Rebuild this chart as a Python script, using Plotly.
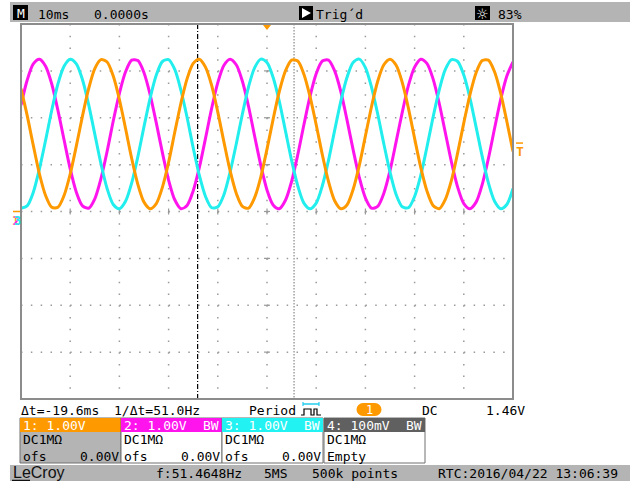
import plotly.graph_objects as go

W, H = 630, 481
MONO = "DejaVu Sans Mono"

# ---- acquisition data (10 ms/div, 1 V/div, 0 V at centre line) ----
t_ms = [-50.0, -48.75, -47.5, -46.25, -45.0, -43.75, -42.5, -41.25, -40.0, -38.75,
        -37.5, -36.25, -35.0, -33.75, -32.5, -31.25, -30.0, -28.75, -27.5, -26.25,
        -25.0, -23.75, -22.5, -21.25, -20.0, -18.75, -17.5, -16.25, -15.0, -13.75,
        -12.5, -11.25, -10.0, -8.75, -7.5, -6.25, -5.0, -3.75, -2.5, -1.25,
        0.0, 1.25, 2.5, 3.75, 5.0, 6.25, 7.5, 8.75, 10.0, 11.25,
        12.5, 13.75, 15.0, 16.25, 17.5, 18.75, 20.0, 21.25, 22.5, 23.75,
        25.0, 26.25, 27.5, 28.75, 30.0, 31.25, 32.5, 33.75, 35.0, 36.25,
        37.5, 38.75, 40.0, 41.25, 42.5, 43.75, 45.0, 46.25, 47.5, 48.75, 50.0]

ch1_v = [2.62, 2.05, 1.41, 0.80, 0.34, 0.09, 0.09, 0.34, 0.80, 1.40,
         2.04, 2.62, 3.05, 3.24, 3.19, 2.89, 2.39, 1.77, 1.13, 0.58,
         0.20, 0.06, 0.17, 0.52, 1.05, 1.69, 2.31, 2.83, 3.16, 3.25,
         3.08, 2.69, 2.12, 1.48, 0.87, 0.39, 0.11, 0.07, 0.30, 0.74,
         1.33, 1.97, 2.56, 3.00, 3.23, 3.21, 2.93, 2.45, 1.85, 1.21,
         0.64, 0.23, 0.06, 0.14, 0.47, 0.98, 1.61, 2.24, 2.78, 3.13,
         3.25, 3.12, 2.75, 2.20, 1.56, 0.94, 0.44, 0.13, 0.06, 0.26,
         0.67, 1.25, 1.89, 2.49, 2.96, 3.22, 3.23, 2.98, 2.52, 1.92, 1.28]

ch2_v = [2.27, 2.80, 3.15, 3.25, 3.10, 2.72, 2.16, 1.53, 0.91, 0.41,
         0.12, 0.07, 0.27, 0.70, 1.28, 1.93, 2.52, 2.98, 3.23, 3.22,
         2.96, 2.49, 1.89, 1.25, 0.67, 0.25, 0.06, 0.13, 0.44, 0.94,
         1.56, 2.20, 2.75, 3.12, 3.25, 3.13, 2.78, 2.24, 1.60, 0.98,
         0.46, 0.14, 0.06, 0.24, 0.64, 1.21, 1.85, 2.46, 2.94, 3.21,
         3.23, 3.00, 2.56, 1.96, 1.32, 0.73, 0.29, 0.07, 0.11, 0.39,
         0.87, 1.49, 2.12, 2.69, 3.08, 3.25, 3.16, 2.83, 2.31, 1.68,
         1.05, 0.52, 0.17, 0.06, 0.20, 0.58, 1.13, 1.77, 2.39, 2.89, 3.19]

ch3_v = [0.07, 0.12, 0.41, 0.91, 1.52, 2.16, 2.72, 3.10, 3.25, 3.15,
         2.81, 2.28, 1.65, 1.02, 0.49, 0.15, 0.06, 0.22, 0.61, 1.17,
         1.81, 2.42, 2.91, 3.20, 3.24, 3.03, 2.59, 2.01, 1.36, 0.77,
         0.32, 0.08, 0.10, 0.36, 0.84, 1.44, 2.08, 2.66, 3.07, 3.25,
         3.18, 2.86, 2.35, 1.72, 1.09, 0.55, 0.18, 0.06, 0.18, 0.55,
         1.09, 1.73, 2.35, 2.86, 3.18, 3.25, 3.07, 2.65, 2.08, 1.44,
         0.84, 0.36, 0.10, 0.08, 0.32, 0.77, 1.37, 2.01, 2.59, 3.03,
         3.24, 3.20, 2.91, 2.42, 1.80, 1.17, 0.61, 0.22, 0.06, 0.15, 0.49]

channel_labels = ["1: 1.00V", "2: 1.00V", "3: 1.00V", "4: 100mV"]
channel_bw = ["", "BW", "BW", "BW"]
channel_coupling = ["DC1MΩ", "DC1MΩ", "DC1MΩ", "DC1MΩ"]
channel_offset = ["0.00V", "0.00V", "0.00V", None]

timebase = "10ms"
delay = "0.0000s"
trig_state = "Trig´d"
brightness = "83%"
trig_level_v = 1.46
cursor_ref_ms = 5.5
cursor_delta_ms = -19.6
freq_text = "f:51.4648Hz"
sample_rate = "5MS"
record_len = "500k points"
rtc = "RTC:2016/04/22 13:06:39"

ORANGE = "#FF9900"
MAGENTA = "#FF14EE"
CYAN = "#22EEEE"
BAR = "#B4B4B4"
DARK = "#606060"
GRID = "#9A9A9A"

# screen geometry (pixels)
GX0, GX1, GY0, GY1 = 21, 513, 24, 399


def xp(x):
    return x / W


def yp(y):
    return 1 - y / H


def t_px(t):
    return GX0 + (t + 50) / 100 * (GX1 - GX0)


def v_px(v):
    return (GY0 + GY1) / 2 - v / 8 * (GY1 - GY0)


shapes = []
annotations = []


def rect(x0, y0, x1, y1, fill, lc=None, lw=0, layer="below"):
    shapes.append(dict(type="rect", xref="paper", yref="paper",
                       x0=xp(x0), x1=xp(x1), y0=yp(y1), y1=yp(y0),
                       fillcolor=fill, layer=layer,
                       line=dict(color=lc or fill, width=lw)))


def seg(x0, y0, x1, y1, color, width=1, dash="solid", layer="below"):
    shapes.append(dict(type="line", xref="paper", yref="paper",
                       x0=xp(x0), x1=xp(x1), y0=yp(y0), y1=yp(y1),
                       layer=layer, line=dict(color=color, width=width, dash=dash)))


def poly(points, fill, layer="above"):
    path = "M " + " L ".join(f"{xp(x):.5f},{yp(y):.5f}" for x, y in points) + " Z"
    shapes.append(dict(type="path", xref="paper", yref="paper", path=path,
                       fillcolor=fill, layer=layer, line=dict(width=0)))


def text(s, x, y, color="#000", size=13, xanchor="left", family=MONO):
    annotations.append(dict(text=s, x=xp(x), y=yp(y), xref="paper", yref="paper",
                            xanchor=xanchor, yanchor="middle", showarrow=False,
                            borderpad=0, font=dict(family=family, size=size, color=color)))


# ---- top status bar ----
rect(10, 2, 630, 22, BAR)
rect(13, 5, 28, 20, "#000")
text("M", 20.5, 13.5, "#fff", 13, "center")
text(timebase, 37, 14.5)
text(delay, 93, 14.5)
rect(299, 6, 313, 20, "#000")
poly([(302, 8), (311, 13), (302, 18)], "#fff")
text(trig_state, 315, 14.5)
rect(475, 6, 490, 20, "#000")
text("☼", 482.5, 13.5, "#fff", 14, "center", "DejaVu Sans")
text(brightness, 497, 14.5)

# ---- graticule ----
for k in range(1, 10):
    x = GX0 + k * (GX1 - GX0) / 10
    seg(x, GY0, x, GY1, GRID, 1.5, "1.5px,10.22px")
for k in range(1, 8):
    y = GY0 + k * (GY1 - GY0) / 8
    seg(GX0, y, GX1, y, GRID, 1.5, "1.5px,8.34px")
cx, cy = t_px(0), v_px(0)
for k in range(-4, 5):
    y = v_px(k)
    seg(cx - 3, y, cx + 3, y, GRID, 1.2)
for k in range(-5, 6):
    x = t_px(k * 10)
    seg(x, cy - 3, x, cy + 3, GRID, 1.2)
rect(GX0, GY0, GX1, GY1, "rgba(0,0,0,0)", "#8C8C8C", 2, "above")

# cursors
xr = t_px(cursor_ref_ms)
xc = t_px(cursor_ref_ms + cursor_delta_ms)
seg(xr, GY0, xr, GY1, "#A0A0A0", 1.5, "1.5px,1.5px")
seg(xc, GY0, xc, GY1, "#000", 1.2, "5px,2px,1px,2px")

# trigger position / level / ground markers
poly([(cx - 4, GY0 + 1), (cx + 4, GY0 + 1), (cx, GY0 + 6)], ORANGE)
yt = v_px(trig_level_v)
seg(516, yt, 523, yt, ORANGE, 1.5, layer="above")
text("<b>T</b>", 519.5, yt + 8, ORANGE, 13, "center")
seg(13, cy, 20, cy, ORANGE, 1.5, layer="above")
text("<b>1</b>", 15.5, cy + 9, ORANGE, 12, "center")
text("<b>2</b>", 16, cy + 9, MAGENTA, 12, "center")
text("<b>3</b>", 17, cy + 9, CYAN, 12, "center")

# ---- measurement line ----
ym = 410.5
text(f"Δt={cursor_delta_ms:.1f}ms", 20, ym)
text(f"1/Δt={1000 / abs(cursor_delta_ms):.1f}Hz", 113, ym)
text("Period", 248, ym)
seg(303, 404, 319, 404, "#22CCEE", 1.5, layer="above")
seg(303, 402, 303, 406, "#22CCEE", 1.2, layer="above")
seg(319, 402, 319, 406, "#22CCEE", 1.2, layer="above")
shapes.append(dict(type="path", xref="paper", yref="paper", layer="above",
                   path="M " + " L ".join(f"{xp(x):.5f},{yp(y):.5f}" for x, y in
                                            [(301, 415), (304, 415), (304, 409), (311, 409),
                                             (311, 415), (314, 415), (314, 409), (317, 409),
                                             (317, 415), (321, 415)]),
                   line=dict(color="#000", width=1.2)))
for c in (363, 375):
    shapes.append(dict(type="circle", xref="paper", yref="paper", layer="above",
                       x0=xp(c - 6.5), x1=xp(c + 6.5), y0=yp(416), y1=yp(403),
                       fillcolor=ORANGE, line=dict(width=0)))
rect(363, 403, 375, 416, ORANGE, layer="above")
text("1", 369, 409.5, "#fff", 12, "center")
text("DC", 421, ym)
text(f"{trig_level_v:.2f}V", 485, ym)

# ---- channel boxes ----
hdr_colors = [ORANGE, MAGENTA, "#22F2F2", DARK]
body_colors = [BAR, "#fff", "#fff", "#fff"]
box_x = [20, 121, 222, 324]
for i in range(4):
    x0 = box_x[i]
    x1 = x0 + 101
    rect(x0, 418, x1, 463, body_colors[i], "#707070", 1)
    rect(x0, 418, x1, 432, hdr_colors[i])
    text(channel_labels[i], x0 + 1.5, 425.5, "#fff")
    if channel_bw[i]:
        text(channel_bw[i], x1 - 2, 425.5, "#fff", 13, "right")
    text(channel_coupling[i], x0 + 1.5, 439.5)
    if channel_offset[i] is None:
        text("Empty", x0 + 1.5, 456.5)
    else:
        text("ofs", x0 + 1.5, 456.5)
        text(channel_offset[i], x1 - 1, 456.5, "#000", 13, "right")

# ---- bottom status bar ----
rect(10, 465, 630, 481, BAR)
text("LeCroy", 12, 472.5, "#111", 16, "left", "Liberation Sans")
seg(12, 480.5, 30, 480.5, "#111", 1.5, layer="above")
text(freq_text, 155, 473.5)
text(sample_rate, 263, 473.5)
text(record_len, 311, 473.5)
text(rtc, 437, 473.5)

fig = go.Figure()
for v, col in ((ch2_v, MAGENTA), (ch3_v, CYAN), (ch1_v, ORANGE)):
    fig.add_trace(go.Scatter(x=t_ms, y=v, mode="lines",
                             line=dict(color=col, width=3, shape="spline", smoothing=0.8),
                             hoverinfo="skip", showlegend=False))

fig.update_layout(
    width=W, height=H,
    margin=dict(l=0, r=0, t=0, b=0, pad=0),
    paper_bgcolor="#fff", plot_bgcolor="rgba(0,0,0,0)",
    xaxis=dict(range=[-50, 50], domain=[xp(GX0), xp(GX1)], visible=False, fixedrange=True),
    yaxis=dict(range=[-4, 4], domain=[yp(GY1), yp(GY0)], visible=False, fixedrange=True),
    shapes=shapes, annotations=annotations, showlegend=False,
)
fig.write_html("out.html")
